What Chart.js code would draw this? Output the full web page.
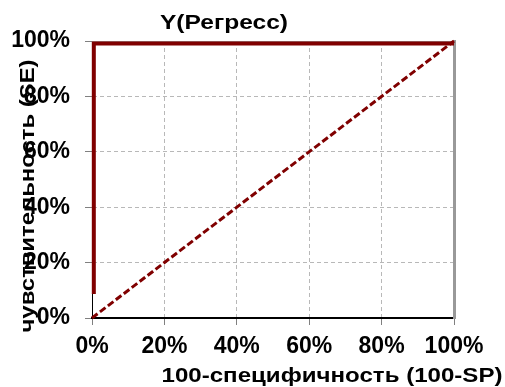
<!DOCTYPE html>
<html>
<head>
<meta charset="utf-8">
<script src="https://cdn.jsdelivr.net/npm/chart.js@4/dist/chart.umd.min.js"></script>
<style>
  html, body { margin: 0; padding: 0; background: #fff; }
  #wrap { width: 505px; height: 387px; position: relative; }
</style>
</head>
<body>
<div id="wrap"><canvas id="roc"></canvas></div>
<script>
// ROC curve data, in percent
const rocX = [0.5, 0.5, 100];
const rocY = [8.7, 99.1, 99.1];
// reference (chance) diagonal
const diagX = [0, 100];
const diagY = [0, 100];
// axis range / tick step
const axisMin = 0;
const axisMax = 100;
const tickStep = 20;

const TITLE = 'Y(Регресс)';
const X_TITLE = '100-специфичность (100-SP)';
const Y_TITLE = 'чувствительность (SE)';

const FONT = "'Liberation Sans', Arial, sans-serif";
const DARK_RED = '#800000';

function toPoints(xs, ys) {
  return xs.map((x, i) => ({ x, y: ys[i] }));
}

// Draws the chart title and both axis titles (stretched a bit like the original)
const textPlugin = {
  id: 'excelText',
  afterDraw(chart) {
    const ctx = chart.ctx;
    const items = [
      { text: TITLE, x: 224, y: 23, w: 128, rot: 0 },
      { text: X_TITLE, x: 332, y: 376, w: 341, rot: 0 },
      { text: Y_TITLE, x: 28, y: 196, w: 273, rot: -Math.PI / 2 },
    ];
    ctx.save();
    ctx.fillStyle = '#000';
    ctx.font = 'bold 21px ' + FONT;
    ctx.textAlign = 'center';
    ctx.textBaseline = 'middle';
    items.forEach(it => {
      const m = ctx.measureText(it.text).width;
      ctx.save();
      ctx.translate(it.x, it.y);
      ctx.rotate(it.rot);
      ctx.scale(it.w / m, 1);
      ctx.fillText(it.text, 0, 0);
      ctx.restore();
    });
    ctx.restore();
  }
};

const pct = v => v + '%';

new Chart(document.getElementById('roc'), {
  type: 'scatter',
  data: {
    datasets: [
      {
        data: toPoints(rocX, rocY),
        showLine: true,
        borderColor: DARK_RED,
        borderWidth: 4,
        borderCapStyle: 'butt',
        borderJoinStyle: 'miter',
        pointRadius: 0,
        tension: 0,
        clip: false,
        order: 1,
      },
      {
        data: toPoints(diagX, diagY),
        showLine: true,
        borderColor: DARK_RED,
        borderWidth: 3,
        borderDash: [7, 3],
        pointRadius: 0,
        clip: false,
        order: 2,
      },
    ],
  },
  options: {
    responsive: true,
    maintainAspectRatio: false,
    animation: false,
    layout: { padding: { left: 0, top: 41, right: 51, bottom: 0 } },
    plugins: {
      legend: { display: false },
      tooltip: { enabled: false },
      title: { display: false },
    },
    scales: {
      x: {
        type: 'linear',
        min: axisMin,
        max: axisMax,
        afterFit: s => { s.height = 69; },
        ticks: {
          stepSize: tickStep,
          callback: pct,
          color: '#000',
          padding: 8,
          maxRotation: 0,
          font: { family: FONT, size: 23, weight: 'bold' },
        },
        grid: { color: '#b8b8b8', lineWidth: 1, tickLength: 7, tickColor: '#808080' },
        border: { color: '#000', width: 2, dash: [4, 3] },
      },
      y: {
        type: 'linear',
        min: axisMin,
        max: axisMax,
        afterFit: s => { s.width = 92; },
        ticks: {
          stepSize: tickStep,
          callback: pct,
          color: '#000',
          padding: 15,
          font: { family: FONT, size: 23, weight: 'bold' },
        },
        grid: { color: '#b8b8b8', lineWidth: 1, tickLength: 7, tickColor: '#808080' },
        border: { color: '#000', width: 1, dash: [4, 3] },
      },
      // frame lines on top and right of the plot area
      xTop: {
        type: 'linear',
        position: 'top',
        min: axisMin,
        max: axisMax,
        afterFit: s => { s.height = 0; },
        ticks: { display: false },
        grid: { drawOnChartArea: false, drawTicks: false },
        border: { color: '#a0a0a0', width: 1 },
      },
      yRight: {
        type: 'linear',
        position: 'right',
        min: axisMin,
        max: axisMax,
        afterFit: s => { s.width = 0; },
        ticks: { display: false },
        grid: { drawOnChartArea: false, drawTicks: false },
        border: { color: '#999999', width: 3 },
      },
    },
  },
  plugins: [textPlugin],
});
</script>
</body>
</html>
